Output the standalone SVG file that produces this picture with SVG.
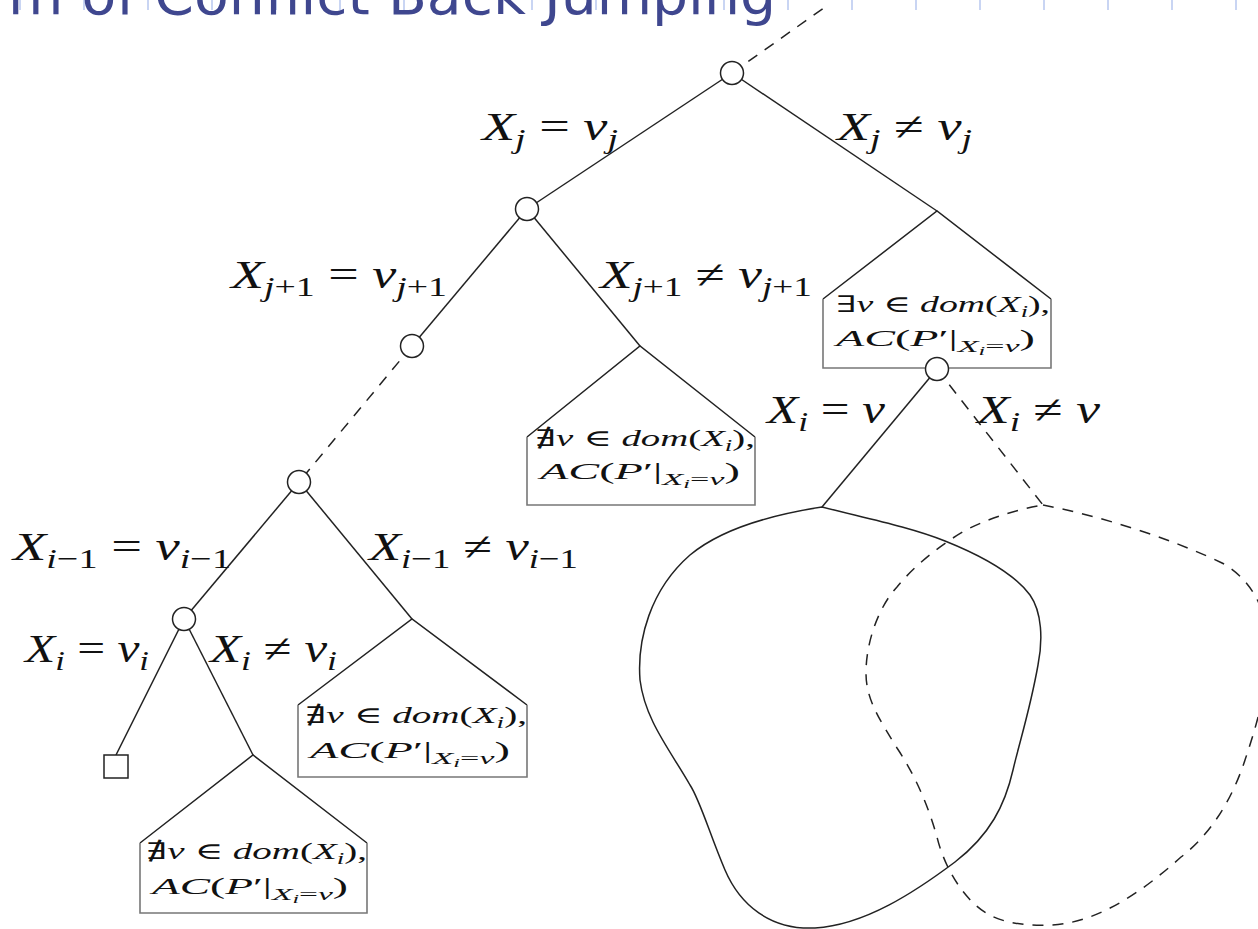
<svg xmlns="http://www.w3.org/2000/svg" width="1258" height="929" viewBox="0 0 1258 929">
<style>
.e{stroke:#222;stroke-width:1.5;fill:none}
.d{stroke:#222;stroke-width:1.5;fill:none;stroke-dasharray:11 9}
.n{fill:#fff;stroke:#222;stroke-width:1.5}
.bx{fill:none;stroke:#777;stroke-width:1.6}
.tk{stroke:#c9d5f3;stroke-width:2}
.m{font-family:"Liberation Serif","DejaVu Serif",serif;fill:#111}
.i{font-style:italic}
.L{font-size:40px}
.B{font-size:23px}
.t{font-family:"DejaVu Sans","Liberation Sans",sans-serif;font-size:56px;fill:#3f478f}
</style>
<rect width="1258" height="929" fill="#fff"/>
<g id="title">
<path class="tk" d="M20,0V10M84,0V10M148,0V10M212,0V10M276,0V10M340,0V10M404,0V10M468,0V10M532,0V10M596,0V10M660,0V10M724,0V10M788,0V10M852,0V10M916,0V10M980,0V10M1044,0V10M1108,0V10M1172,0V10M1236,0V10"/>
<text class="t" x="8" y="14" textLength="768" lengthAdjust="spacingAndGlyphs">m of Conflict Back Jumping</text>
</g>
<g id="connectors">
<line class="d" x1="732" y1="73" x2="828" y2="5"/>
<line class="e" x1="732" y1="73" x2="527" y2="209"/>
<line class="e" x1="732" y1="73" x2="937" y2="211"/>
<line class="e" x1="527" y1="209" x2="412" y2="346"/>
<line class="e" x1="527" y1="209" x2="640" y2="346"/>
<line class="d" x1="412" y1="346" x2="299" y2="482"/>
<line class="e" x1="299" y1="482" x2="184" y2="619"/>
<line class="e" x1="299" y1="482" x2="412" y2="619"/>
<line class="e" x1="184" y1="619" x2="116" y2="755"/>
<line class="e" x1="184" y1="619" x2="253" y2="755"/>
<line class="e" x1="937" y1="369" x2="822" y2="507"/>
<line class="d" x1="937" y1="369" x2="1043" y2="505"/>
</g>
<g id="labels">
<text class="m L" x="482" y="140" textLength="136" lengthAdjust="spacingAndGlyphs"><tspan class="i">X</tspan><tspan class="i" font-size="28" dy="8">j</tspan><tspan dy="-8"> = </tspan><tspan class="i">v</tspan><tspan class="i" font-size="28" dy="8">j</tspan></text>
<text class="m L" x="837" y="140" textLength="135" lengthAdjust="spacingAndGlyphs"><tspan class="i">X</tspan><tspan class="i" font-size="28" dy="8">j</tspan><tspan dy="-8"> ≠ </tspan><tspan class="i">v</tspan><tspan class="i" font-size="28" dy="8">j</tspan></text>
<text class="m L" x="231" y="288" textLength="216" lengthAdjust="spacingAndGlyphs"><tspan class="i">X</tspan><tspan font-size="28" dy="8"><tspan class="i">j</tspan>+1</tspan><tspan dy="-8"> = </tspan><tspan class="i">v</tspan><tspan font-size="28" dy="8"><tspan class="i">j</tspan>+1</tspan></text>
<text class="m L" x="600" y="288" textLength="212" lengthAdjust="spacingAndGlyphs"><tspan class="i">X</tspan><tspan font-size="28" dy="8"><tspan class="i">j</tspan>+1</tspan><tspan dy="-8"> ≠ </tspan><tspan class="i">v</tspan><tspan font-size="28" dy="8"><tspan class="i">j</tspan>+1</tspan></text>
<text class="m L" x="767" y="423" textLength="118" lengthAdjust="spacingAndGlyphs"><tspan class="i">X</tspan><tspan class="i" font-size="28" dy="8">i</tspan><tspan dy="-8"> = </tspan><tspan class="i">v</tspan></text>
<text class="m L" x="977" y="423" textLength="123" lengthAdjust="spacingAndGlyphs"><tspan class="i">X</tspan><tspan class="i" font-size="28" dy="8">i</tspan><tspan dy="-8"> ≠ </tspan><tspan class="i">v</tspan></text>
<text class="m L" x="13" y="560" textLength="218" lengthAdjust="spacingAndGlyphs"><tspan class="i">X</tspan><tspan font-size="28" dy="8"><tspan class="i">i</tspan>−1</tspan><tspan dy="-8"> = </tspan><tspan class="i">v</tspan><tspan font-size="28" dy="8"><tspan class="i">i</tspan>−1</tspan></text>
<text class="m L" x="369" y="560" textLength="209" lengthAdjust="spacingAndGlyphs"><tspan class="i">X</tspan><tspan font-size="28" dy="8"><tspan class="i">i</tspan>−1</tspan><tspan dy="-8"> ≠ </tspan><tspan class="i">v</tspan><tspan font-size="28" dy="8"><tspan class="i">i</tspan>−1</tspan></text>
<text class="m L" x="25" y="662" textLength="124" lengthAdjust="spacingAndGlyphs"><tspan class="i">X</tspan><tspan class="i" font-size="28" dy="8">i</tspan><tspan dy="-8"> = </tspan><tspan class="i">v</tspan><tspan class="i" font-size="28" dy="8">i</tspan></text>
<text class="m L" x="210" y="662" textLength="127" lengthAdjust="spacingAndGlyphs"><tspan class="i">X</tspan><tspan class="i" font-size="28" dy="8">i</tspan><tspan dy="-8"> ≠ </tspan><tspan class="i">v</tspan><tspan class="i" font-size="28" dy="8">i</tspan></text>
</g>
<g id="subtree-right">
<polyline class="e" points="823,299 937,211 1051,299"/>
<polyline class="bx" points="823,299 823,368 1051,368 1051,299"/>
<text class="m B" x="836" y="312" textLength="214" lengthAdjust="spacingAndGlyphs">∃<tspan class="i">v</tspan> ∈ <tspan class="i">dom</tspan>(<tspan class="i">X</tspan><tspan class="i" font-size="16" dy="5">i</tspan><tspan dy="-5">),</tspan></text>
<text class="m B" x="836" y="346" textLength="199" lengthAdjust="spacingAndGlyphs"><tspan class="i">AC</tspan>(<tspan class="i">P</tspan>′|<tspan font-size="17" dy="6"><tspan class="i">X</tspan><tspan class="i" font-size="12" dy="3">i</tspan><tspan dy="-3">=</tspan><tspan class="i">v</tspan></tspan><tspan dy="-6">)</tspan></text>
</g>
<g id="subtree-middle">
<polyline class="e" points="527,437 640,346 755,437"/>
<polyline class="bx" points="527,437 527,505 755,505 755,437"/>
<text class="m B" x="535" y="446" textLength="220" lengthAdjust="spacingAndGlyphs">∄<tspan class="i">v</tspan> ∈ <tspan class="i">dom</tspan>(<tspan class="i">X</tspan><tspan class="i" font-size="16" dy="5">i</tspan><tspan dy="-5">),</tspan></text>
<text class="m B" x="540" y="479" textLength="200" lengthAdjust="spacingAndGlyphs"><tspan class="i">AC</tspan>(<tspan class="i">P</tspan>′|<tspan font-size="17" dy="6"><tspan class="i">X</tspan><tspan class="i" font-size="12" dy="3">i</tspan><tspan dy="-3">=</tspan><tspan class="i">v</tspan></tspan><tspan dy="-6">)</tspan></text>
</g>
<g id="subtree-left">
<polyline class="e" points="298,705 412,619 527,705"/>
<polyline class="bx" points="298,705 298,777 527,777 527,705"/>
<text class="m B" x="305" y="723" textLength="222" lengthAdjust="spacingAndGlyphs">∄<tspan class="i">v</tspan> ∈ <tspan class="i">dom</tspan>(<tspan class="i">X</tspan><tspan class="i" font-size="16" dy="5">i</tspan><tspan dy="-5">),</tspan></text>
<text class="m B" x="310" y="758" textLength="200" lengthAdjust="spacingAndGlyphs"><tspan class="i">AC</tspan>(<tspan class="i">P</tspan>′|<tspan font-size="17" dy="6"><tspan class="i">X</tspan><tspan class="i" font-size="12" dy="3">i</tspan><tspan dy="-3">=</tspan><tspan class="i">v</tspan></tspan><tspan dy="-6">)</tspan></text>
</g>
<g id="subtree-bottom">
<polyline class="e" points="140,843 253,755 367,843"/>
<polyline class="bx" points="140,843 140,913 367,913 367,843"/>
<text class="m B" x="146" y="859" textLength="221" lengthAdjust="spacingAndGlyphs">∄<tspan class="i">v</tspan> ∈ <tspan class="i">dom</tspan>(<tspan class="i">X</tspan><tspan class="i" font-size="16" dy="5">i</tspan><tspan dy="-5">),</tspan></text>
<text class="m B" x="152" y="894" textLength="196" lengthAdjust="spacingAndGlyphs"><tspan class="i">AC</tspan>(<tspan class="i">P</tspan>′|<tspan font-size="17" dy="6"><tspan class="i">X</tspan><tspan class="i" font-size="12" dy="3">i</tspan><tspan dy="-3">=</tspan><tspan class="i">v</tspan></tspan><tspan dy="-6">)</tspan></text>
</g>
<g id="blob-solid">
<path class="e" d="M822,507 C865,518 910,527 945,541 C985,557 1015,575 1030,595 C1042,612 1043,640 1038,665 C1030,710 1020,740 1013,770 C1005,805 990,835 955,862 C915,892 865,925 815,928 C770,930 740,905 725,870 C710,835 700,800 690,785 C670,750 645,720 640,680 C637,640 650,590 690,555 C720,530 770,515 822,507 Z"/>
</g>
<g id="blob-dashed">
<path class="d" d="M1043,505 C1100,516 1170,538 1222,563 C1250,578 1268,610 1268,645 C1268,690 1255,730 1245,760 C1232,800 1210,835 1181,857 C1150,885 1110,915 1068,923 C1040,928 1005,925 986,913 C965,900 945,870 937,837 C928,805 915,775 897,748 C880,720 866,700 866,673 C866,640 880,605 897,587 C915,565 940,545 966,530 C990,518 1015,510 1043,505 Z"/>
</g>
<g id="node-root"><circle class="n" cx="732" cy="73" r="11.5"/></g>
<g id="node-j1"><circle class="n" cx="527" cy="209" r="11.5"/></g>
<g id="node-j2"><circle class="n" cx="412" cy="346" r="11.5"/></g>
<g id="node-i1"><circle class="n" cx="299" cy="482" r="11.5"/></g>
<g id="node-i"><circle class="n" cx="184" cy="619" r="11.5"/></g>
<g id="node-xi"><circle class="n" cx="937" cy="369" r="11.5"/></g>
<g id="leaf"><rect class="n" x="104" y="755" width="24" height="23"/></g>
</svg>
